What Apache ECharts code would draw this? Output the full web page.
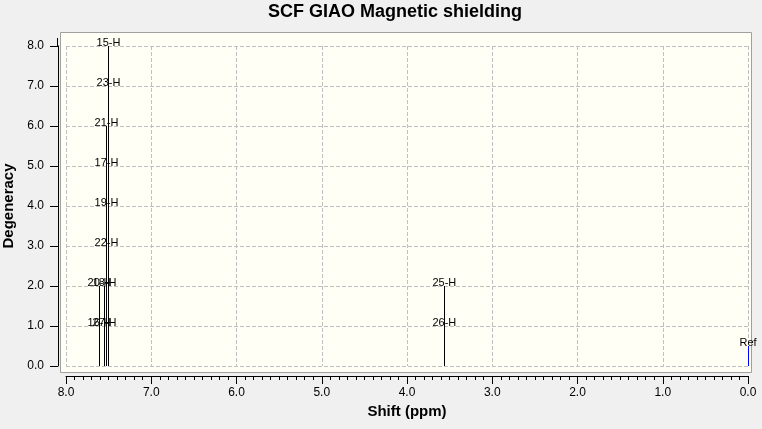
<!DOCTYPE html>
<html>
<head>
<meta charset="utf-8">
<script src="https://cdn.jsdelivr.net/npm/echarts@6/dist/echarts.min.js"></script>
<style>
  html, body { margin: 0; padding: 0; background: #f0f0f0; }
  #chart { width: 762px; height: 429px; }
</style>
</head>
<body>
<div id="chart"></div>
<script>
// sticks: shift (ppm) and degeneracy height
var stickShift = [7.607, 7.548, 7.525, 7.501, 3.562];
var stickHeight = [2, 2, 6, 8, 2];
// reference stick
var refShift = [0.0];
var refHeight = [0.5];
// atom labels stacked on the sticks
var labelNames = ['16-H', '20-H', '27-H', '18-H', '22-H', '19-H', '17-H', '21-H', '23-H', '15-H', '26-H', '25-H'];
var labelShift = [7.607, 7.607, 7.548, 7.548, 7.525, 7.525, 7.525, 7.525, 7.501, 7.501, 3.562, 3.562];
var labelLevel = [1, 2, 1, 2, 3, 4, 5, 6, 7, 8, 1, 2];

var FONT = '"Liberation Sans", Arial, sans-serif';

function stickData(xs, hs) {
	var out = [];
	for (var i = 0; i < xs.length; i++) out.push([xs[i], hs[i]]);
	return out;
}

function labelData() {
	var out = [];
	for (var i = 0; i < labelNames.length; i++) out.push([labelShift[i], labelLevel[i], labelNames[i]]);
	return out;
}

function stickRenderer(color) {
	return function (params, api) {
		var p0 = api.coord([api.value(0), 0]);
		var p1 = api.coord([api.value(0), api.value(1)]);
		// snap to pixel centre so the thin sticks stay crisp
		var x = Math.floor(p0[0]) + 0.5;
		return {
			type: 'line',
			shape: { x1: x, y1: p0[1], x2: x, y2: p1[1] },
			style: { stroke: color, lineWidth: 1 }
		};
	};
}

var myChart = echarts.init(document.getElementById('chart'));
var option = {
	backgroundColor: '#f0f0f0',
	animation: false,
	title: {
		text: 'SCF GIAO Magnetic shielding',
		left: 268,
		top: 3,
		padding: 0,
		textStyle: { fontFamily: FONT, fontSize: 18, fontWeight: 'bold', color: '#000' }
	},
	graphic: [{
		type: 'rect',
		z: -10,
		shape: { x: 60.5, y: 32.5, width: 691, height: 340 },
		style: { fill: '#fffff6', stroke: '#a0a0a0', lineWidth: 1 }
	}, {
		// y axis line runs a little above the 8.0 tick
		type: 'line',
		z: 5,
		shape: { x1: 57.5, y1: 38, x2: 57.5, y2: 47 },
		style: { stroke: '#000', lineWidth: 1 }
	}],
	grid: {
		left: 66,
		right: 14,
		top: 46,
		bottom: 63,
		containLabel: false,
		outerBoundsMode: 'none'
	},
	xAxis: {
		type: 'value',
		inverse: true,
		min: 0,
		max: 8,
		interval: 1,
		offset: 10,
		name: 'Shift (ppm)',
		nameLocation: 'middle',
		nameGap: 28,
		nameTextStyle: { fontFamily: FONT, fontSize: 15, fontWeight: 'bold', color: '#000' },
		axisLine: { show: true, onZero: false, lineStyle: { color: '#000', width: 1 } },
		axisTick: { show: true, length: 8, lineStyle: { color: '#000' } },
		minorTick: { show: true, splitNumber: 10, length: 4, lineStyle: { color: '#000' } },
		axisLabel: {
			fontFamily: FONT, fontSize: 12, color: '#000', margin: 11,
			formatter: function (v) { return v.toFixed(1); }
		},
		splitLine: { show: true, lineStyle: { color: '#c0c0c0', type: 'dashed', width: 1 } },
		minorSplitLine: { show: false }
	},
	yAxis: {
		type: 'value',
		min: 0,
		max: 8,
		interval: 1,
		offset: 8,
		name: 'Degeneracy',
		nameLocation: 'middle',
		nameRotate: 90,
		nameGap: 35,
		nameTextStyle: { fontFamily: FONT, fontSize: 15, fontWeight: 'bold', color: '#000' },
		axisLine: { show: true, onZero: false, lineStyle: { color: '#000', width: 1 } },
		axisTick: { show: true, length: 8, lineStyle: { color: '#000' } },
		axisLabel: {
			fontFamily: FONT, fontSize: 12, color: '#000', margin: 14,
			formatter: function (v) { return v.toFixed(1); }
		},
		splitLine: { show: true, lineStyle: { color: '#c0c0c0', type: 'dashed', width: 1 } }
	},
	series: [
		{
			name: 'sticks',
			type: 'custom',
			renderItem: stickRenderer('#000'),
			data: stickData(stickShift, stickHeight),
			encode: { x: 0, y: 1 },
			silent: true,
			z: 3
		},
		{
			name: 'ref',
			type: 'custom',
			renderItem: stickRenderer('#0000ff'),
			data: stickData(refShift, refHeight),
			encode: { x: 0, y: 1 },
			silent: true,
			z: 3
		},
		{
			name: 'labels',
			type: 'scatter',
			symbolSize: 0,
			data: labelData().concat([[refShift[0], refHeight[0], 'Ref']]),
			silent: true,
			z: 4,
			label: {
				show: true,
				position: 'top',
				distance: -2,
				fontFamily: FONT,
				fontSize: 11,
				color: '#000',
				textBorderWidth: 0,
				opacity: 1,
				formatter: function (p) { return p.value[2]; }
			},
			labelLayout: { hideOverlap: false }
		}
	]
};
myChart.setOption(option);
</script>
</body>
</html>
